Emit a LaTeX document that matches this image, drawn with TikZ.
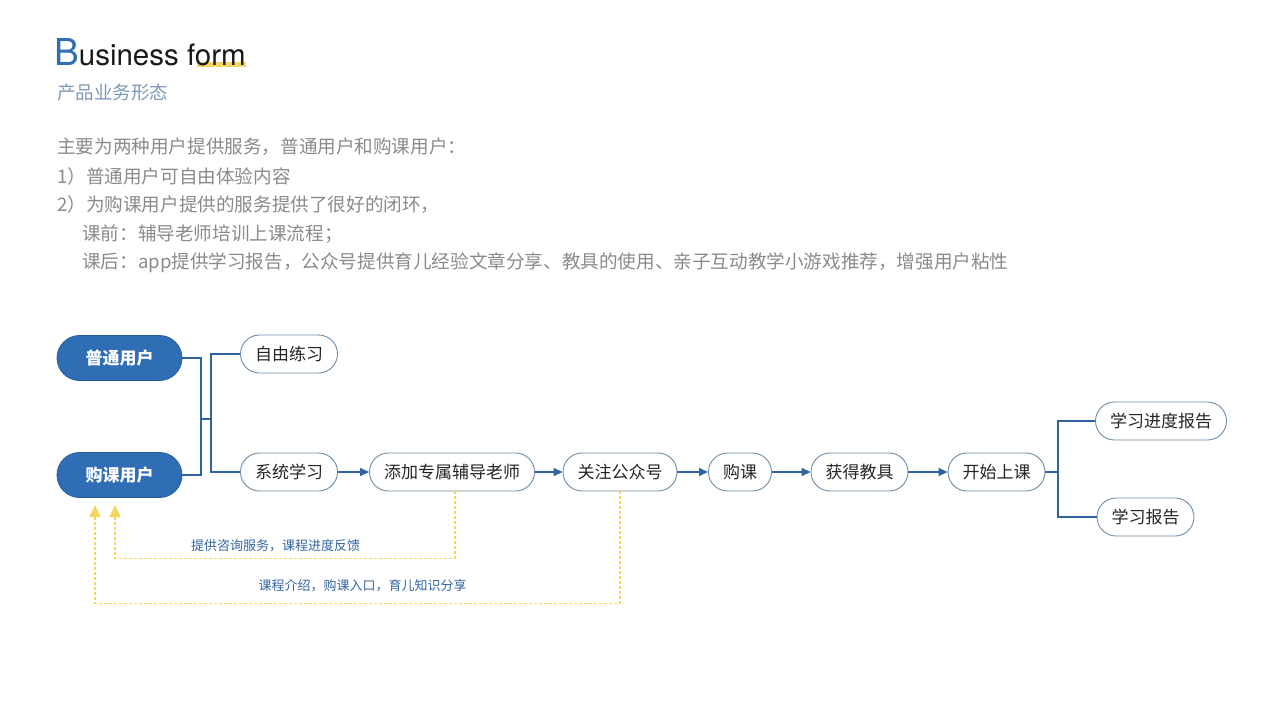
\documentclass[tikz,border=0pt]{standalone}
\usepackage{fontspec}
\usepackage{tikz}
\usetikzlibrary{arrows.meta}
\setmainfont{Noto Sans CJK SC}
\newfontfamily\titlefont{TeX Gyre Heros}

\definecolor{mainblue}{HTML}{2F6DB5}
\definecolor{edgeblue}{HTML}{2F64A0}
\definecolor{rimgrey}{HTML}{6D8CAA}
\definecolor{subgrey}{HTML}{7D99B8}
\definecolor{bodygrey}{HTML}{8A8A8A}
\definecolor{fbyellow}{HTML}{F2D660}
\definecolor{labelblue}{HTML}{3565A0}

\tikzset{
  user/.style={fill=mainblue, draw=mainblue!85!black, line width=0.8pt,
    rounded corners=22.5pt, minimum width=125pt, minimum height=45pt,
    text=white, font=\fontsize{17}{17}\selectfont\bfseries},
  pill/.style={fill=white, draw=rimgrey, line width=0.9pt,
    rounded corners=19pt, minimum height=38pt, inner xsep=14.5pt,
    text=black!85, font=\fontsize{17}{17}\selectfont},
  link/.style={draw=edgeblue, line width=1.4pt},
  flow/.style={link, -{Triangle[width=8pt,length=9pt]}},
  fb/.style={draw=fbyellow, line width=1.6pt, dash pattern=on 3pt off 2pt,
    -{Triangle[width=11pt,length=12pt]}},
  fbtext/.style={text=labelblue, font=\fontsize{13}{13}\selectfont},
  body/.style={anchor=west, text=bodygrey, font=\fontsize{18.6}{18.6}\selectfont, inner sep=0pt}
}

\begin{document}
\begin{tikzpicture}[x=1pt, y=-1pt]
    \useasboundingbox (0,0) rectangle (1280,720);
    % Title
    \fill[fbyellow] (197,61.5) rectangle (246,67);
    \node[anchor=base west, inner sep=0pt] (title) at (54,65)
        {\titlefont{\color{mainblue}\fontsize{37}{37}\selectfont B}{\color{black!90}\fontsize{29.5}{29.5}\selectfont usiness form}};
    \node[anchor=west, inner sep=0pt, text=subgrey, font=\fontsize{18.5}{18.5}\selectfont] (subtitle) at (57,92) {产品业务形态};
    % Description
    \node[body] (l1) at (57,147) {主要为两种用户提供服务，普通用户和购课用户：};
    \node[body] (l2) at (57,176) {1）普通用户可自由体验内容};
    \node[body] (l3) at (57,205) {2）为购课用户提供的服务提供了很好的闭环，};
    \node[body] (l4) at (82,234) {课前：辅导老师培训上课流程；};
    \node[body] (l5) at (82,263) {课后：app提供学习报告，公众号提供育儿经验文章分享、教具的使用、亲子互动教学小游戏推荐，增强用户粘性};

    % Users
    \node[user] (pt) at (119.5,358) {普通用户};
    \node[user] (gkuser) at (119.5,475) {购课用户};
    % Steps
    \node[pill] (zy) at (289,354) {自由练习};
    \node[pill] (xt) at (289,472) {系统学习};
    \node[pill] (fd) at (452,472) {添加专属辅导老师};
    \node[pill] (gz) at (620,472) {关注公众号};
    \node[pill] (gk) at (740,472) {购课};
    \node[pill] (hd) at (859.5,472) {获得教具};
    \node[pill] (ks) at (996.5,472) {开始上课};
    \node[pill] (jd) at (1161,421) {学习进度报告};
    \node[pill] (bg) at (1145.5,517) {学习报告};

    % Brackets
    \coordinate (ljoin) at (201,419);
    \coordinate (lsplit) at (211,419);
    \coordinate (rsplit) at (1058,472);
    \draw[link] (pt.east) -| (ljoin) |- (gkuser.east);
    \draw[link] (ljoin) -- (lsplit);
    \draw[link] (zy.west) -| (lsplit) |- (xt.west);
    \draw[link] (ks.east) -- (rsplit);
    \draw[link] (jd.west) -| (rsplit) |- (bg.west);

    % Main flow
    \foreach \a/\b in {xt/fd, fd/gz, gz/gk, gk/hd, hd/ks}
        \draw[flow] (\a.east) -- (\b.west);

    % Feedback
    \coordinate (fbin) at (115,505);
    \coordinate (fbout) at (95,505);
    \draw[fb] (fd.south -| 455,0) -- ++(0,67) -| (fbin);
    \draw[fb] (gz.south) -- ++(0,112) -| (fbout);
    \node[fbtext] (fbl1) at (275.5,546) {提供咨询服务，课程进度反馈};
    \node[fbtext] (fbl2) at (362.5,586) {课程介绍，购课入口，育儿知识分享};
\end{tikzpicture}
\end{document}
